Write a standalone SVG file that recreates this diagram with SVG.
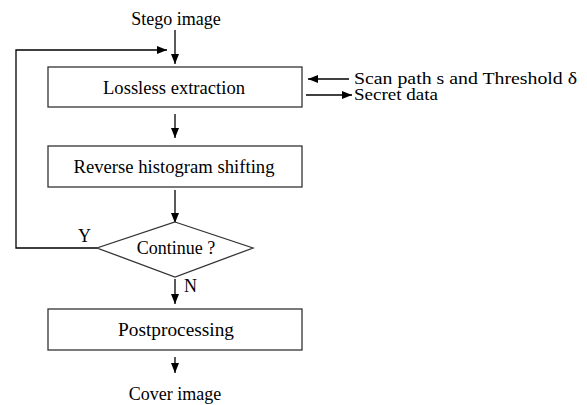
<svg xmlns="http://www.w3.org/2000/svg" width="587" height="405" viewBox="0 0 587 405">
<defs>
<marker id="ah" viewBox="0 0 10 10" refX="10" refY="5" markerWidth="10" markerHeight="10" markerUnits="userSpaceOnUse" orient="auto">
<path d="M0,1 L10,5 L0,9 Z" fill="#000"/>
</marker>
</defs>
<style>
.box{fill:#fff;stroke:#333;stroke-width:1.3}
.ln{fill:none;stroke:#000;stroke-width:1.3}
.t{font-family:"Liberation Serif","Times New Roman",serif;font-size:18px;fill:#000}
.s{font-size:16px}
.c{text-anchor:middle}
</style>
<rect width="587" height="405" fill="#fff"/>
<g id="connectors">
<line class="ln" x1="175" y1="30" x2="175" y2="64" marker-end="url(#ah)"/>
<polyline class="ln" points="97,248 16,248 16,50 167,50" marker-end="url(#ah)"/>
<line class="ln" x1="175" y1="114" x2="175" y2="138" marker-end="url(#ah)"/>
<line class="ln" x1="175" y1="190" x2="175" y2="223" marker-end="url(#ah)"/>
<line class="ln" x1="175" y1="279" x2="175" y2="304" marker-end="url(#ah)"/>
<line class="ln" x1="175" y1="357" x2="175" y2="373" marker-end="url(#ah)"/>
<line class="ln" x1="349" y1="79" x2="308" y2="79" marker-end="url(#ah)"/>
<line class="ln" x1="306" y1="95" x2="352" y2="95" marker-end="url(#ah)"/>
<text class="t" x="78" y="242">Y</text>
<text class="t" x="184" y="292">N</text>
</g>
<g id="stego"><text class="t c" x="176" y="25">Stego image</text></g>
<g id="lossless">
<rect class="box" x="48" y="67" width="254" height="40"/>
<text class="t c" x="174" y="94" textLength="142" lengthAdjust="spacingAndGlyphs">Lossless extraction</text>
</g>
<g id="scan"><text class="t s" x="354" y="84" textLength="223" lengthAdjust="spacingAndGlyphs">Scan path s and Threshold δ</text></g>
<g id="secret"><text class="t s" x="354" y="100" textLength="84" lengthAdjust="spacingAndGlyphs">Secret data</text></g>
<g id="reverse">
<rect class="box" x="48" y="146" width="254" height="41"/>
<text class="t c" x="174" y="173" textLength="201" lengthAdjust="spacingAndGlyphs">Reverse histogram shifting</text>
</g>
<g id="continue">
<polygon class="box" points="175,222 253,248 175,277 97,248"/>
<text class="t c" x="176" y="254">Continue ?</text>
</g>
<g id="post">
<rect class="box" x="48" y="309" width="254" height="41"/>
<text class="t c" x="176" y="336" textLength="116" lengthAdjust="spacingAndGlyphs">Postprocessing</text>
</g>
<g id="cover"><text class="t c" x="175" y="400">Cover image</text></g>
</svg>
